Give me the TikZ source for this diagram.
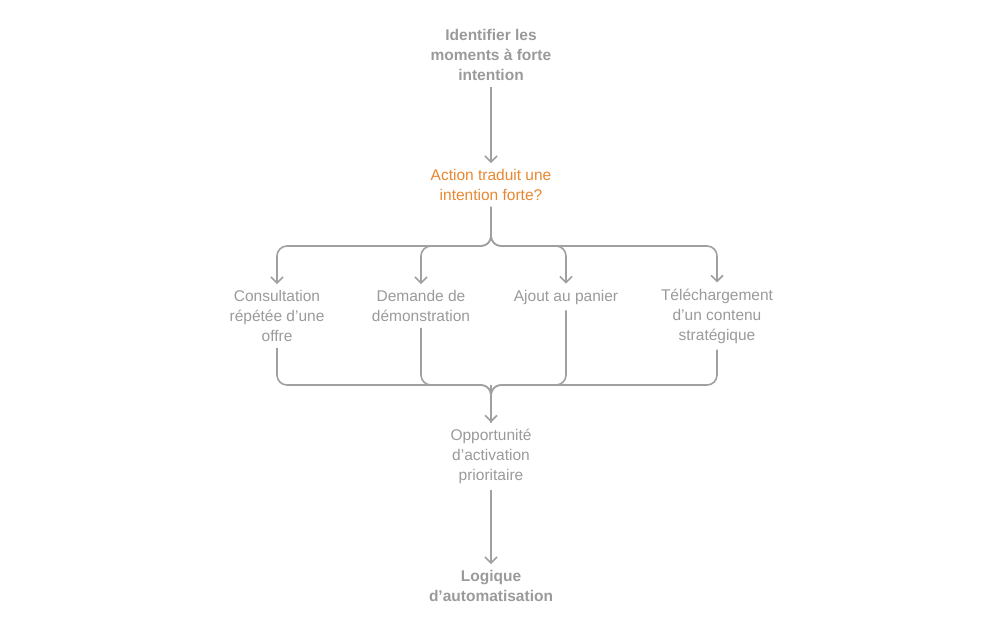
\documentclass[tikz,border=0pt]{standalone}
\usepackage{fontspec}
\setmainfont{Liberation Sans}
\usepackage{xcolor}
\usetikzlibrary{arrows.meta}
\definecolor{txtgray}{HTML}{9A9A9A}
\definecolor{linegray}{HTML}{A0A0A0}
\definecolor{askorange}{HTML}{E8872F}

\begin{document}
\begin{tikzpicture}[x=1pt,y=-1pt,
  lbl/.style={align=center,text=txtgray,inner sep=6pt,font=\fontsize{15.5}{20}\selectfont},
  bold lbl/.style={lbl,font=\fontsize{15.5}{20}\selectfont\bfseries},
  link/.style={draw=linegray,line width=1.6pt,rounded corners=10pt,-{Straight Barb[length=6pt,width=12pt,line width=1.6pt]}},
  merge/.style={draw=linegray,line width=1.6pt,rounded corners=10pt}]
\useasboundingbox (0,0) rectangle (1008,624);
\node[bold lbl] (start) at (491,55) {Identifier les\\moments à forte\\intention};
\node[lbl,text=askorange] (ask) at (491,185) {Action traduit une\\intention forte?};
\node[lbl] (consult) at (277,316) {Consultation\\répétée d’une\\offre};
\node[lbl] (demo) at (421,306) {Demande de\\démonstration};
\node[lbl] (cart) at (566,297) {Ajout au panier};
\node[lbl] (dl) at (717,316) {Téléchargement\\d’un contenu\\stratégique};
\node[lbl] (opp) at (491,456) {Opportunité\\d’activation\\prioritaire};
\node[bold lbl] (logic) at (491,586) {Logique\\d’automatisation};
\coordinate (split) at (491,246);
\coordinate (join) at (491,385);
\draw[link] (start.south) -- (ask.north);
\foreach \c in {consult,demo,cart,dl}
  \draw[link] (ask.south) |- (\c.north |- split) -- (\c.north);
\foreach \c in {consult,demo,cart,dl}
  \draw[merge] (\c.south) |- (join) -- (opp.north);
\draw[link] (join) -- (opp.north);
\draw[link] (opp.south) -- (logic.north);
\end{tikzpicture}
\end{document}
